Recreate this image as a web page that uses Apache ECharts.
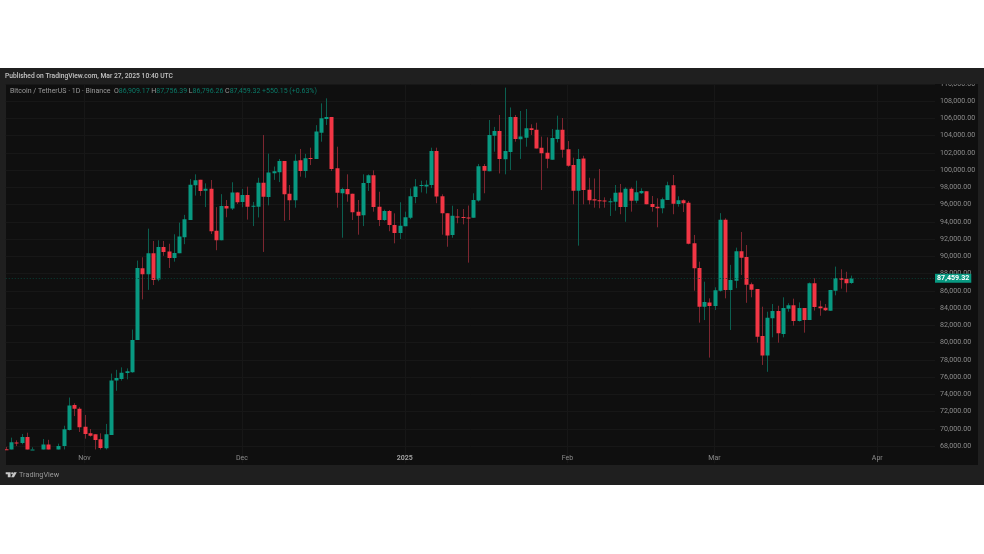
<!DOCTYPE html>
<html>
<head>
<meta charset="utf-8">
<title>BTCUSDT 1D</title>
<script src="https://cdn.jsdelivr.net/npm/echarts@6/dist/echarts.min.js"></script>
<style>
  html, body { margin: 0; padding: 0; background: #fff; }
  #chart { width: 984px; height: 554px; }
</style>
</head>
<body>
<div id="chart"></div>
<script>
// one value per day, Oct 17 2024 to Mar 27 2025
const opens = [
  67620, 67420, 68420, 68360, 69030, 67360, 67380, 66650, 68160, 66630, 67000, 68000, 69850, 72750, 72320,
  70240, 69470, 69350, 68770, 67730, 69280, 75580, 75770, 76470, 76550, 80290, 88600, 87900, 90350, 87300, 91060, 90550, 89800, 90350, 92200, 94200, 98230, 98860, 97600, 97830, 92950, 91850, 95830, 95550, 97400,
  96290, 97100, 95800, 95750, 98530, 96870, 99630, 99730, 101040, 97260, 96490, 101120, 99880, 101400, 101280, 104320, 105910, 106150, 100200, 97300, 97800, 97250, 95170, 94750, 98500, 99400, 95750, 94200, 95250, 93620, 92700,
  93480, 94470, 96870, 98150, 98100, 98260, 102200, 96950, 95000, 92450, 94600, 94550, 94500, 94470, 96450, 100470, 99850, 103980, 104520, 101240, 102100, 106150, 103560, 103750, 104830, 104670, 102590, 102000, 101200, 103600, 104670,
  102400, 100580, 97600, 101330, 97700, 96600, 96500, 96470, 96300, 96330, 97400, 95700, 97830, 96440, 97300, 97530, 96060, 95750, 95560, 96520, 98230, 96060, 96480, 96200, 91500, 88640, 84150, 84640,
  84230, 86000, 94220, 86100, 87170, 90570, 89900, 86750, 86200, 80750, 78500, 82800, 83650, 81000, 83900, 84310, 82500, 84000, 82600, 86870, 84170, 84030, 83690, 85990, 87480, 87400, 86909.17
];
const highs = [
  67900, 68970, 68660, 69390, 69540, 67850, 67450, 68810, 68720, 67300, 68270, 70350, 73620, 72950, 72490,
  71600, 69970, 69350, 69470, 70560, 76400, 76830, 77120, 77000, 81500, 89500, 89880, 93200, 91770, 91850, 91770, 91450, 92550, 93900, 94800, 98950, 99500, 98860, 98450, 98840, 95700, 97200, 96520, 98580, 97400,
  97800, 98070, 96300, 99100, 104060, 101900, 100400, 101280, 101040, 98260, 101820, 102440, 101870, 102590, 105200, 107730, 108310, 106150, 102700, 97950, 99500, 97250, 96520, 99500, 99500, 99960, 97480, 95400, 95360, 94980, 96260,
  95170, 97870, 98950, 98760, 98810, 102590, 102590, 97180, 95000, 95860, 95480, 95480, 95880, 97300, 100700, 100700, 105800, 105000, 106380, 109550, 107250, 106380, 106840, 107070, 105300, 105480, 103870, 103790, 104750, 106300, 106030,
  103360, 101430, 102440, 101650, 99100, 99020, 100120, 96830, 96720, 98260, 98380, 98000, 98000, 98760, 97880, 97530, 96990, 96720, 96800, 98640, 99420, 96950, 96600, 96400, 92470, 89370, 87050, 85120,
  86400, 95000, 94400, 89000, 91000, 92810, 91300, 86950, 86200, 84150, 83570, 84460, 84260, 85240, 84550, 85080, 84650, 84000, 86950, 87450, 84850, 84460, 86100, 88800, 88490, 88200, 87756.39
];
const lows = [
  66700, 67400, 68000, 68200, 66600, 66600, 65260, 66450, 65600, 66560, 66800, 67600, 69800, 71470, 69620,
  68850, 69080, 67500, 66900, 67500, 69300, 74400, 75580, 75730, 76500, 80290, 85000, 86100, 86660, 87100, 90050, 88640, 89370, 90350, 91400, 94200, 97030, 97000, 95700, 92580, 90700, 91850, 94520, 95360, 96060,
  95680, 94250, 93500, 94500, 90500, 95900, 98850, 98600, 94100, 94200, 95630, 99230, 99100, 100570, 101280, 103280, 105220, 99880, 95630, 92150, 96320, 94200, 92500, 93500, 97570, 95170, 93500, 94100, 92900, 91500, 92000,
  93480, 94300, 96150, 97400, 97270, 97900, 96150, 92500, 91100, 92150, 93820, 93700, 89260, 94470, 96330, 97300, 99850, 102120, 99600, 99500, 100000, 103280, 101280, 102700, 104060, 102500, 97680, 100200, 101200, 103200, 101430,
  100380, 96020, 91230, 96020, 96020, 95630, 95560, 95630, 94670, 95280, 94870, 94000, 95170, 96150, 97220, 96020, 95170, 93360, 94980, 96520, 94870, 95750, 95130, 91380, 86000, 82300, 82600, 78250,
  83770, 85900, 85120, 81450, 86300, 87830, 84600, 85240, 79980, 77400, 76600, 80600, 79980, 80600, 83570, 81950, 82430, 81140, 82600, 83700, 83100, 83650, 83690, 85470, 86240, 85820, 86796.26
];
const closes = [
  67420, 68430, 68360, 69030, 67360, 67380, 66840, 68160, 66630, 67000, 68000, 69950, 72700, 72320, 70170,
  69390, 69190, 68700, 67770, 69350, 75600, 75880, 76500, 76670, 80300, 88650, 87910, 90340, 87250, 91060, 90500, 89800, 90380, 92300, 94290, 98300, 98810, 97570, 97830, 92900, 91850, 95830, 95550, 97400, 96270,
  97100, 95750, 95850, 98530, 96910, 99700, 99860, 101040, 97180, 96490, 101080, 99880, 101350, 101350, 104450, 106000, 106150, 100120, 97370, 97800, 97180, 95100, 94700, 98500, 99400, 95700, 94200, 95250, 93620, 92700, 93550,
  94530, 96950, 98100, 98270, 98300, 102200, 96920, 95000, 92420, 94700, 94550, 94500, 94480, 96530, 100430, 99920, 104060, 104520, 101280, 102200, 106150, 103600, 103880, 104830, 104630, 102500, 101950, 101290, 103700, 104670, 102350,
  100500, 97600, 101280, 97680, 96500, 96470, 96400, 96450, 96370, 97370, 95700, 97830, 96440, 97410, 97560, 96020, 95700, 95570, 96600, 98230, 96090, 96480, 96140, 91450, 88600, 84150, 84700, 84230,
  86050, 94220, 86100, 87250, 90570, 89830, 86700, 86130, 80670, 78500, 82880, 83650, 81070, 84000, 84310, 82500, 84000, 82600, 86870, 84120, 83970, 83730, 86100, 87480, 87280, 86860, 87459.32
];
const monthTicks = { '2024-11': 'Nov', '2024-12': 'Dec', '2025-01': '2025', '2025-02': 'Feb', '2025-03': 'Mar', '2025-04': 'Apr' };

const UP = '#089981', DOWN = '#f23645';
const UP_WICK = '#0b5f50', DOWN_WICK = '#7d2630';
const GRID_LINE = '#171717';
// the source picture cuts everything off just under the 68,000 line
const VISIBLE_FLOOR = 67600;

const categories = [];
for (let i = 0; i < 178; i++) {
  categories.push(new Date(Date.UTC(2024, 9, 17 + i)).toISOString().slice(0, 10));
}
const isMonthStart = (idx, val) => val.slice(8) === '01';
const rows = opens.map((o, i) => [i, o, highs[i], lows[i], closes[i]]);

function renderCandle(params, api) {
  const i = api.value(0);
  const o = api.value(1), h = api.value(2), l = api.value(3), c = api.value(4);
  if (h <= VISIBLE_FLOOR) return;
  const up = c >= o;
  const x = api.coord([i, o])[0];
  const py = v => api.coord([i, Math.max(v, VISIBLE_FLOOR)])[1];
  const top = py(Math.max(o, c));
  const bottom = py(Math.min(o, c));
  const wx = Math.round(x) + 0.5;
  return {
    type: 'group',
    children: [
      {
        type: 'line',
        shape: { x1: wx, y1: py(h), x2: wx, y2: py(l) },
        style: { stroke: up ? UP_WICK : DOWN_WICK, lineWidth: 1 }
      },
      {
        type: 'rect',
        shape: { x: wx - 2, y: top, width: 4, height: Math.max(bottom - top, 1) },
        style: { fill: up ? UP : DOWN }
      }
    ]
  };
}

const chart = echarts.init(document.getElementById('chart'));
chart.setOption({
  animation: false,
  textStyle: { fontFamily: 'Roboto' },
  grid: { left: 5.75, width: 929.25, top: 83.75, height: 379.5 },
  xAxis: {
    type: 'category',
    data: categories,
    boundaryGap: false,
    axisLine: { show: false },
    axisTick: { show: false },
    axisLabel: {
      inside: true,
      margin: 1.5,
      interval: isMonthStart,
      color: '#8c8c8c',
      fontSize: 7,
      formatter: val => {
        const t = monthTicks[val.slice(0, 7)];
        return t === '2025' ? '{b|2025}' : t;
      },
      rich: { b: { fontSize: 7, fontWeight: 'bold', color: '#a0a0a0' } }
    },
    splitLine: { show: true, interval: isMonthStart, lineStyle: { color: GRID_LINE, width: 1 } }
  },
  yAxis: {
    type: 'value',
    position: 'right',
    min: 66000,
    max: 110000,
    interval: 2000,
    axisLine: { show: false },
    axisTick: { show: false },
    axisLabel: {
      margin: 5,
      showMinLabel: false,
      color: '#8c8c8c',
      fontSize: 7.1,
      formatter: v => v.toLocaleString('en-US', { minimumFractionDigits: 2 })
    },
    splitLine: { show: true, showMinLine: false, lineStyle: { color: GRID_LINE, width: 1 } }
  },
  series: [{
    type: 'custom',
    data: rows,
    encode: { x: 0, y: [1, 2, 3, 4] },
    renderItem: renderCandle,
    clip: true,
    silent: true,
    z: 3,
    markLine: {
      silent: true,
      symbol: 'none',
      animation: false,
      data: [{ yAxis: closes[closes.length - 1] }],
      lineStyle: { color: '#0a3f36', type: [1, 2], width: 1 },
      label: {
        position: 'end',
        distance: 0,
        color: '#fff',
        fontSize: 7.1,
        fontWeight: 'bold',
        backgroundColor: UP,
        padding: [1, 2, 1, 2],
        formatter: '87,459.32'
      }
    }
  }],
  graphic: [
    // frame and dark panel
    { type: 'rect', z: -10, silent: true, shape: { x: 0, y: 68, width: 984, height: 417 }, style: { fill: '#1f1f1f' } },
    { type: 'rect', z: -9, silent: true, shape: { x: 6, y: 84, width: 972, height: 381 }, style: { fill: '#0f0f0f' } },
    // header strip sits over the clipped 110,000 label
    { type: 'rect', z: 50, silent: true, shape: { x: 0, y: 68, width: 984, height: 16 }, style: { fill: '#1f1f1f' } },
    {
      type: 'text', z: 51, silent: true, x: 5, y: 76,
      style: { text: 'Published on TradingView.com, Mar 27, 2025 10:40 UTC', fill: '#c4c4c4', font: '500 6.7px Roboto', verticalAlign: 'middle' }
    },
    {
      type: 'text', z: 51, silent: true, x: 10, y: 91,
      style: {
        text: '{g|Bitcoin / TetherUS · 1D · Binance}  {g|O}{v|86,909.17} {g|H}{v|87,756.39} {g|L}{v|86,796.26} {g|C}{v|87,459.32} {v|+550.15 (+0.63%)}',
        verticalAlign: 'middle',
        font: '7px Roboto',
        rich: {
          g: { fill: '#9a9a9a', font: '7px Roboto' },
          v: { fill: '#0b7a68', font: '7px Roboto' }
        }
      }
    },
    // footer logo and name
    { type: 'polygon', z: 51, silent: true, shape: { points: [[5.7, 472.3], [10.6, 472.3], [10.6, 477.3], [7.8, 477.3], [7.8, 474.2], [5.7, 474.2]] }, style: { fill: '#c8c8c8' } },
    { type: 'circle', z: 51, silent: true, shape: { cx: 12.2, cy: 473.3, r: 1.1 }, style: { fill: '#c8c8c8' } },
    { type: 'polygon', z: 51, silent: true, shape: { points: [[13.9, 472.3], [16.8, 472.3], [14, 477.3], [11.1, 477.3]] }, style: { fill: '#c8c8c8' } },
    {
      type: 'text', z: 51, silent: true, x: 19, y: 475,
      style: { text: 'TradingView', fill: '#999999', font: '7.3px Roboto', verticalAlign: 'middle' }
    }
  ]
});
</script>
</body>
</html>
